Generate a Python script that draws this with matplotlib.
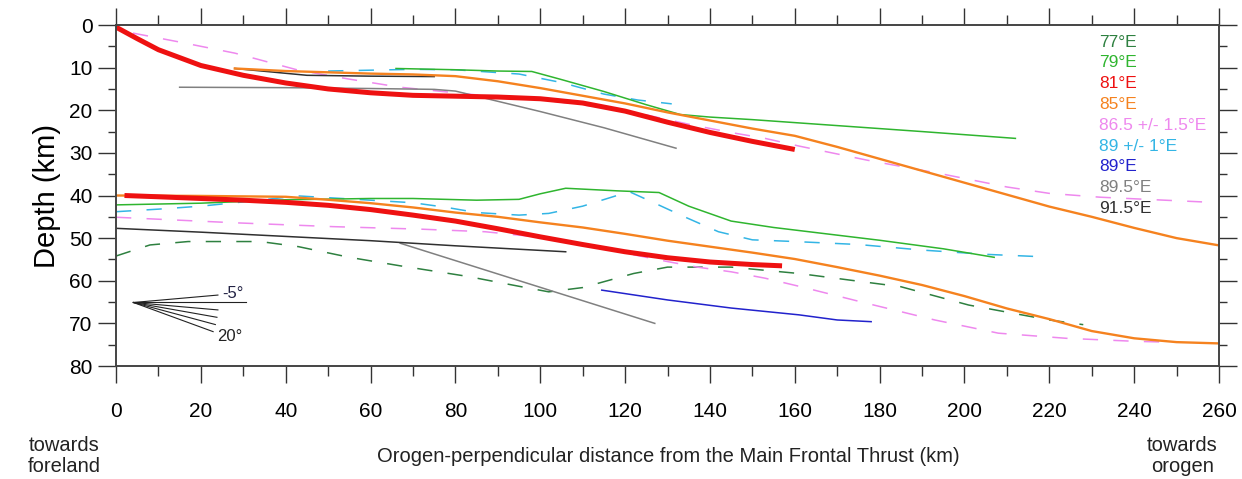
import numpy as np
import matplotlib
matplotlib.use('Agg')
import matplotlib.pyplot as plt

plt.rcParams['font.family'] = ['Liberation Sans', 'DejaVu Sans']

# upper boundaries (km along profile, depth km)
red_up_x = [0, 5, 10, 20, 30, 40, 50, 60, 70, 80, 90, 100, 110, 120, 130, 140, 150, 160]
red_up_y = [0.5, 3.2, 5.8, 9.5, 11.8, 13.6, 15.0, 15.9, 16.5, 16.7, 16.9, 17.3, 18.3, 20.2, 22.8, 25.2, 27.3, 29.2]
orange_up_x = [28, 40, 60, 70, 80, 90, 100, 110, 120, 130, 140, 150, 160, 170, 180, 190, 200, 210, 220, 230, 240, 250, 260]
orange_up_y = [10.2, 10.8, 11.4, 11.6, 12.0, 13.2, 14.8, 16.6, 18.4, 20.5, 22.4, 24.3, 26.0, 28.6, 31.4, 34.2, 37.0, 39.8, 42.6, 45.0, 47.6, 50.0, 51.7]
green_up_x = [66, 80, 90, 98, 105, 115, 125, 133, 140, 150, 170, 190, 212]
green_up_y = [10.2, 10.5, 10.8, 10.9, 12.8, 15.6, 18.7, 21.0, 21.6, 22.2, 23.6, 25.0, 26.6]
cyan_up_x = [50, 60, 70, 80, 95, 105, 115, 123, 131]
cyan_up_y = [10.8, 10.6, 10.4, 10.5, 11.5, 13.5, 16.2, 17.6, 18.5]
violet_up_x = [4, 15, 28, 43, 55, 67, 85, 100, 120, 136, 146, 153, 161, 177, 195, 210, 220, 232, 245, 256]
violet_up_y = [1.9, 4.0, 6.6, 10.6, 12.7, 14.6, 16.4, 17.5, 20.0, 23.5, 25.4, 26.6, 28.4, 31.7, 35.0, 38.0, 39.5, 40.4, 41.0, 41.5]
gray_up_x = [15, 40, 60, 75, 80, 100, 115, 132]
gray_up_y = [14.6, 14.7, 14.9, 15.1, 15.5, 20.3, 24.1, 28.9]
black_up_x = [28, 45, 60, 75]
black_up_y = [10.2, 11.8, 12.0, 12.1]

# lower boundaries
red_lo_x = [2, 10, 20, 30, 40, 50, 60, 70, 80, 90, 100, 110, 120, 130, 140, 150, 157]
red_lo_y = [40.0, 40.3, 40.7, 41.1, 41.6, 42.3, 43.3, 44.6, 46.0, 47.8, 49.7, 51.5, 53.2, 54.6, 55.6, 56.2, 56.5]
orange_lo_x = [0, 20, 40, 50, 60, 70, 80, 90, 100, 110, 120, 130, 140, 150, 160, 170, 180, 190, 200, 210, 220, 230, 240, 250, 260]
orange_lo_y = [40.0, 40.1, 40.3, 41.0, 41.8, 42.8, 44.0, 45.0, 46.3, 47.5, 49.0, 50.6, 52.0, 53.4, 54.9, 56.8, 58.8, 61.0, 63.6, 66.5, 69.0, 71.8, 73.5, 74.4, 74.7]
green_lo_x = [0, 20, 40, 60, 70, 85, 95, 100, 106, 118, 128, 135, 145, 155, 165, 180, 195, 207]
green_lo_y = [42.2, 41.8, 41.0, 40.7, 40.7, 41.1, 40.9, 39.6, 38.3, 38.9, 39.3, 42.5, 46.0, 47.5, 48.7, 50.5, 52.5, 54.5]
cyan_lo_x = [0, 10, 20, 30, 43, 55, 70, 78, 85, 95, 102, 110, 121, 127, 134, 142, 150, 160, 175, 190, 205, 219]
cyan_lo_y = [43.8, 43.2, 42.5, 41.5, 40.1, 40.8, 41.7, 42.8, 44.0, 44.6, 44.2, 42.5, 39.1, 41.8, 45.0, 48.5, 50.4, 50.8, 51.5, 52.8, 53.8, 54.4]
violet_lo_x = [0, 28, 51, 72, 87, 100, 110, 120, 130, 137, 145, 153, 161, 177, 193, 208, 224, 240, 248]
violet_lo_y = [45.1, 46.4, 47.3, 47.9, 48.5, 49.8, 51.3, 53.5, 55.5, 56.8, 57.9, 59.4, 61.3, 65.3, 69.2, 72.3, 73.5, 74.2, 74.4]
dkgreen_lo_x = [0, 8, 17, 34, 43, 55, 67, 83, 95, 102, 110, 122, 130, 145, 161, 185, 201, 220, 228]
dkgreen_lo_y = [54.2, 51.6, 50.8, 50.8, 52.0, 54.5, 56.5, 59.0, 61.3, 62.6, 61.6, 58.3, 56.8, 56.8, 58.3, 61.4, 65.7, 69.2, 70.3]
black_lo_x = [0, 20, 40, 60, 80, 106]
black_lo_y = [47.7, 48.6, 49.6, 50.6, 51.8, 53.2]
gray_lo_x = [67, 127]
gray_lo_y = [51.2, 70.0]
blue_lo_x = [114.5, 130, 145, 161, 170, 178]
blue_lo_y = [62.2, 64.5, 66.4, 68.0, 69.2, 69.6]

legend_labels = ['77°E', '79°E', '81°E', '85°E', '86.5 +/- 1.5°E', '89 +/- 1°E', '89°E', '89.5°E', '91.5°E']
c_dkgreen = '#2e8040'
c_green = '#2fb52f'
c_red = '#ee1111'
c_orange = '#f5821f'
c_violet = '#ee88ee'
c_cyan = '#33b5e5'
c_blue = '#2222cc'
c_gray = '#808080'
c_black = '#303030'
legend_colors = [c_dkgreen, c_green, c_red, c_orange, c_violet, c_cyan, c_blue, c_gray, c_black]

fan_angles = [-5, 0, 5, 10, 15, 20]

fig = plt.figure(figsize=(12.42, 4.79), dpi=100)
ax = fig.add_axes([0.0934, 0.2359, 0.8881, 0.7119])

dash = (0, (10, 10))
lw = 1.1

# lower
ax.plot(dkgreen_lo_x, dkgreen_lo_y, color=c_dkgreen, lw=lw, linestyle=dash)
ax.plot(violet_lo_x, violet_lo_y, color=c_violet, lw=lw, linestyle=dash)
ax.plot(cyan_lo_x, cyan_lo_y, color=c_cyan, lw=lw, linestyle=dash)
ax.plot(gray_lo_x, gray_lo_y, color=c_gray, lw=lw)
ax.plot(black_lo_x, black_lo_y, color=c_black, lw=lw)
ax.plot(blue_lo_x, blue_lo_y, color=c_blue, lw=lw)
ax.plot(green_lo_x, green_lo_y, color=c_green, lw=lw)
ax.plot(orange_lo_x, orange_lo_y, color=c_orange, lw=1.7)
ax.plot(red_lo_x, red_lo_y, color=c_red, lw=3.6, solid_capstyle='butt')

# upper
ax.plot(violet_up_x, violet_up_y, color=c_violet, lw=lw, linestyle=dash)
ax.plot(cyan_up_x, cyan_up_y, color=c_cyan, lw=lw, linestyle=dash)
ax.plot(gray_up_x, gray_up_y, color=c_gray, lw=lw)
ax.plot(black_up_x, black_up_y, color=c_black, lw=lw)
ax.plot(green_up_x, green_up_y, color=c_green, lw=lw)
ax.plot(orange_up_x, orange_up_y, color=c_orange, lw=1.7)
ax.plot(red_up_x, red_up_y, color=c_red, lw=3.6, solid_capstyle='butt')

# dip angle fan
x0, y0, L = 4.1, 65.1, 20.0
for a in fan_angles:
    length = 26.5 if a == 0 else L
    ax.plot([x0, x0 + length * np.cos(np.radians(a))],
            [y0, y0 + length * np.sin(np.radians(a))], color='#222222', lw=0.8)
ax.text(27.6, 63.0, '-5°', fontsize=12, color='#222244', ha='center', va='center')
ax.text(26.9, 73.1, '20°', fontsize=12, color='#222222', ha='center', va='center')

# colored legend text
for i, (lab, col) in enumerate(zip(legend_labels, legend_colors)):
    ax.text(231.8, 4.0 + i * 4.88, lab, color=col, fontsize=12.5, ha='left', va='center')

ax.set_xlim(0, 260)
ax.set_ylim(80, 0)
ax.set_xticks(np.arange(0, 261, 20))
ax.set_xticks(np.arange(10, 261, 20), minor=True)
ax.set_yticks(np.arange(0, 81, 10))
ax.set_yticks(np.arange(5, 81, 10), minor=True)

for s in ax.spines.values():
    s.set_color('#444444')
    s.set_linewidth(1.4)

ax.tick_params(axis='x', which='both', direction='out', top=True, bottom=True, color='#333333', width=1.0)
ax.tick_params(axis='x', which='major', length=12, pad=14, labelsize=15)
ax.tick_params(axis='x', which='minor', length=7)
ax.tick_params(axis='y', which='both', direction='out', left=True, right=True, color='#333333', width=1.0)
ax.tick_params(axis='y', which='major', length=13, pad=4, labelsize=15)
ax.tick_params(axis='y', which='minor', length=6)

ax.set_ylabel('Depth (km)', fontsize=21, labelpad=6)
fig.text(0.538, 0.048, 'Orogen-perpendicular distance from the Main Frontal Thrust (km)',
         fontsize=14.5, ha='center', va='center', color='#222222')
fig.text(0.052, 0.048, 'towards\nforeland', fontsize=14.5, ha='center', va='center',
         linespacing=1.15, color='#222222')
fig.text(0.952, 0.048, 'towards\norogen', fontsize=14.5, ha='center', va='center',
         linespacing=1.15, color='#222222')

fig.savefig('out.png', dpi=100)
